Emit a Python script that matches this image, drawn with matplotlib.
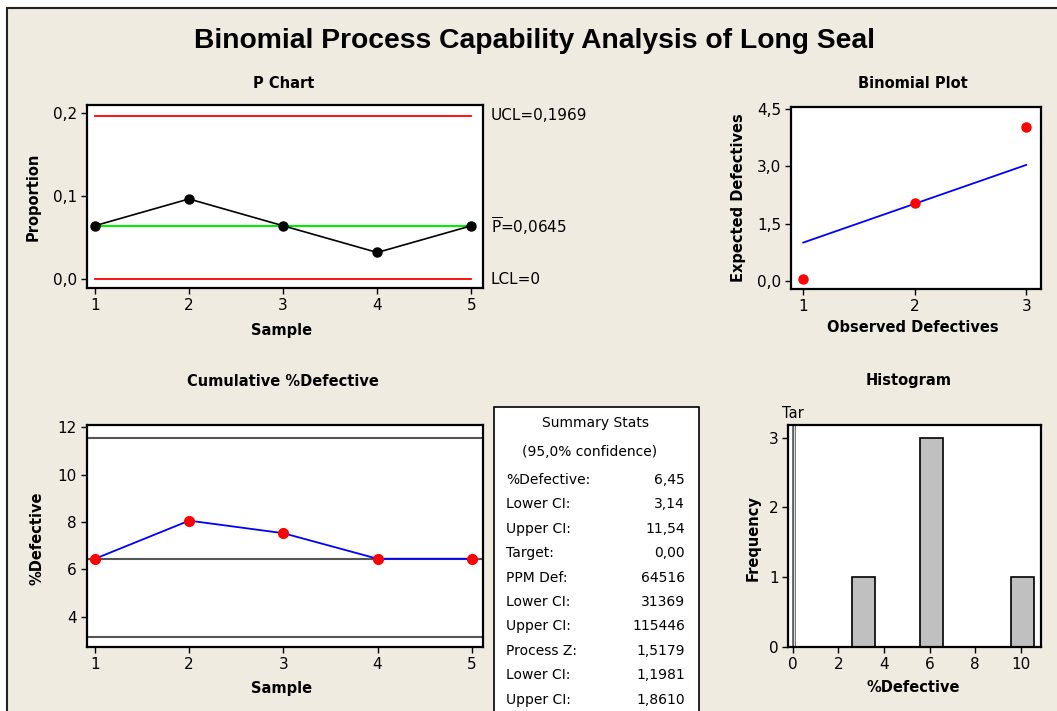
import matplotlib
matplotlib.use('Agg')
import matplotlib.pyplot as plt
from matplotlib.patches import Rectangle

# data
samples = [1, 2, 3, 4, 5]
proportion = [0.0645, 0.0968, 0.0645, 0.0323, 0.0645]
ucl = 0.1969
p_bar = 0.0645
lcl = 0.0

cum_defective = [6.45, 8.06, 7.53, 6.45, 6.45]
ci_lower = 3.14
ci_upper = 11.54

observed_def = [1, 2, 3]
expected_def = [0.05, 2.03, 4.03]
fit_x = [1, 3]
fit_y = [1.0, 3.04]

hist_centers = [3.1, 6.07, 10.07]
hist_counts = [1, 3, 1]
target = 0.0

summary_labels = ['%Defective:', 'Lower CI:', 'Upper CI:', 'Target:', 'PPM Def:',
                  'Lower CI:', 'Upper CI:', 'Process Z:', 'Lower CI:', 'Upper CI:']
summary_values = ['6,45', '3,14', '11,54', '0,00', '64516',
                  '31369', '115446', '1,5179', '1,1981', '1,8610']

W, H = 1057, 711
BG = '#EFEBE1'

plt.rcParams['font.family'] = ['DejaVu Sans']
plt.rcParams['xtick.direction'] = 'out'
plt.rcParams['ytick.direction'] = 'out'

fig = plt.figure(figsize=(W / 100, H / 100), dpi=100, facecolor='white')


def rect(x0, y0, x1, y1):
    return [x0 / W, 1 - y1 / H, (x1 - x0) / W, (y1 - y0) / H]


def ftext(x, y, s, **kw):
    kw.setdefault('ha', 'center')
    kw.setdefault('va', 'center')
    return fig.text(x / W, 1 - y / H, s, **kw)


# beige panel with dark border on top/left
fig.patches.append(Rectangle((7 / W, -0.01), 1.1, 1 - 8 / H + 0.01, transform=fig.transFigure,
                             facecolor=BG, edgecolor='#222222', lw=1.5, zorder=-5))


def style(ax):
    ax.set_facecolor('white')
    for sp in ax.spines.values():
        sp.set_linewidth(1.6)
        sp.set_color('black')
    ax.tick_params(length=4, width=1, labelsize=11, pad=3)
    ax.tick_params(top=False, right=False)


# main title
ftext(535, 41, 'Binomial Process Capability Analysis of Long Seal', fontsize=20.3,
      fontweight='bold', family=['Liberation Sans', 'DejaVu Sans'])

# ---- P chart ----
ax1 = fig.add_axes(rect(86.5, 105, 483, 288))
style(ax1)
ax1.plot([samples[0], samples[-1]], [ucl, ucl], color='red', lw=1.3)
ax1.plot([samples[0], samples[-1]], [lcl, lcl], color='red', lw=1.3)
ax1.plot([samples[0], samples[-1]], [p_bar, p_bar], color='#00EE00', lw=1.5)
ax1.plot(samples, proportion, color='black', lw=1.2, marker='o', ms=6.5)
ax1.set_xlim(0.912, 5.123)
ax1.set_ylim(-0.0105, 0.21)
ax1.set_xticks(samples)
ax1.set_yticks([0.0, 0.1, 0.2])
ax1.set_yticklabels(['0,0', '0,1', '0,2'])
ftext(284, 83, 'P Chart', fontsize=10.5, fontweight='bold')
ftext(33, 197, 'Proportion', fontsize=10.5, fontweight='bold', rotation=90)
ftext(282, 330, 'Sample', fontsize=10.5, fontweight='bold')
ax1.text(1.02, ucl, 'UCL=0,1969', transform=ax1.get_yaxis_transform(), fontsize=11, va='center')
ax1.text(1.02, p_bar, r'$\overline{\mathrm{P}}$=0,0645', transform=ax1.get_yaxis_transform(),
         fontsize=11, va='center')
ax1.text(1.02, lcl, 'LCL=0', transform=ax1.get_yaxis_transform(), fontsize=11, va='center')

# ---- Binomial plot ----
ax2 = fig.add_axes(rect(790.7, 106.7, 1040.7, 289))
style(ax2)
ax2.plot(fit_x, fit_y, color='blue', lw=1.3)
ax2.plot(observed_def, expected_def, 'o', color='red', ms=6.5)
ax2.set_xlim(0.887, 3.13)
ax2.set_ylim(-0.22, 4.57)
ax2.set_xticks([1, 2, 3])
ax2.set_yticks([0, 1.5, 3.0, 4.5])
ax2.set_yticklabels(['0,0', '1,5', '3,0', '4,5'])
ftext(913, 83, 'Binomial Plot', fontsize=10.5, fontweight='bold')
ftext(738, 198, 'Expected Defectives', fontsize=10.5, fontweight='bold', rotation=90)
ftext(913, 328, 'Observed Defectives', fontsize=10.5, fontweight='bold')

# ---- Cumulative %Defective ----
ax3 = fig.add_axes(rect(86.7, 425, 483.3, 647.3))
style(ax3)
for v in [ci_upper, cum_defective[-1], ci_lower]:
    ax3.axhline(v, color='#555555', lw=1.5)
ax3.plot(samples, cum_defective, color='blue', lw=1.3, marker='o', mfc='red', mec='red', ms=7)
ax3.set_xlim(0.912, 5.123)
ax3.set_ylim(2.71, 12.1)
ax3.set_xticks(samples)
ax3.set_yticks([4, 6, 8, 10, 12])
ftext(283, 382, 'Cumulative %Defective', fontsize=10.5, fontweight='bold')
ftext(37, 538, '%Defective', fontsize=10.5, fontweight='bold', rotation=90)
ftext(282, 689, 'Sample', fontsize=10.5, fontweight='bold')

# ---- Summary stats box ----
fig.patches.append(Rectangle((494 / W, -0.01), (699.3 - 494) / W, 1 - 406.7 / H + 0.01,
                             transform=fig.transFigure, facecolor='white', edgecolor='black',
                             lw=1.2, zorder=1))
ftext(596, 423, 'Summary Stats', fontsize=10)
ftext(590, 451.5, '(95,0% confidence)', fontsize=10)
for i, (lab, val) in enumerate(zip(summary_labels, summary_values)):
    y = 480 + i * 24.4
    ftext(506, y, lab, fontsize=10, ha='left')
    ftext(685, y, val, fontsize=10, ha='right')

# ---- Histogram ----
ax4 = fig.add_axes(rect(788.3, 425, 1041, 647.3))
style(ax4)
ax4.bar(hist_centers, hist_counts, width=1.0, color='#C0C0C0', edgecolor='black', lw=1.2)
# target line (drawn as a thin double line)
ax4.axvline(target + 0.05, color='#555555', lw=2.6)
ax4.axvline(target + 0.05, color='#DDDDDD', lw=0.8)
ax4.set_xlim(-0.19, 10.88)
ax4.set_ylim(0, 3.18)
ax4.set_xticks([0, 2, 4, 6, 8, 10])
ax4.set_yticks([0, 1, 2, 3])
ax4.text(target, 1.02, 'Tar', transform=ax4.get_xaxis_transform(), fontsize=10.5,
         ha='center', va='bottom')
ftext(909, 381, 'Histogram', fontsize=10.5, fontweight='bold')
ftext(753, 538, 'Frequency', fontsize=10.5, fontweight='bold', rotation=90)
ftext(913, 687, '%Defective', fontsize=10.5, fontweight='bold')

fig.savefig('out.png', dpi=100, facecolor=fig.get_facecolor())
